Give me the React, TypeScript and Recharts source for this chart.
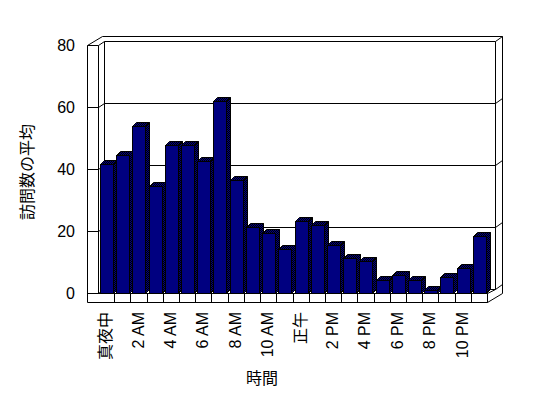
import { BarChart, Bar, XAxis, YAxis, CartesianGrid, Customized } from "recharts";

const hours = [
  "真夜中", "1 AM", "2 AM", "3 AM", "4 AM", "5 AM", "6 AM", "7 AM", "8 AM", "9 AM", "10 AM", "11 AM",
  "正午", "1 PM", "2 PM", "3 PM", "4 PM", "5 PM", "6 PM", "7 PM", "8 PM", "9 PM", "10 PM", "11 PM",
];
const visits = [
  41.5, 44.4, 53.8, 34.4, 47.6, 47.6, 42.5, 61.9, 36.3, 21.2, 19.3, 14.2,
  23.2, 22, 15.5, 11.2, 10.2, 4.1, 5.9, 4.1, 1.1, 5.1, 8, 18.3,
];
const yTicks = [0, 20, 40, 60, 80];

const data = hours.map((hour, i) => ({ hour, visits: visits[i] }));

const FONT = "'Liberation Sans', Arial, 'Noto Sans CJK JP', sans-serif";
const NAVY = "#000080";
const DEPTH = 4; // bar side/top offset
const WALL = 11; // left wall thickness
const FLOOR = 9; // floor slab thickness

// 3D look: front face, dithered top and right side
function Bar3D(props: any) {
  const { x, y, width, height } = props;
  const l = Math.round(x) + 0.5;
  const r = Math.round(x + width) + 0.5;
  const t = Math.round(y) + 0.5;
  const b = Math.round(y + height) + 0.5;
  const d = DEPTH;
  return (
    <g>
      <polygon
        points={`${r},${t} ${r + d},${t - d} ${r + d},${b - d} ${r},${b}`}
        fill="url(#dither)"
        stroke="#000"
      />
      <polygon
        points={`${l},${t} ${l + d},${t - d} ${r + d},${t - d} ${r},${t}`}
        fill="url(#dither)"
        stroke="#000"
      />
      <rect x={l} y={t} width={r - l} height={b - t} fill={NAVY} stroke="#000" />
    </g>
  );
}

// draws each value line on the back wall plus the box around the plot
function GridLine3D(props: any) {
  const { x1, x2, y1, index, y: top, height } = props;
  const L = Math.round(x1) + 0.5;
  const R = Math.round(x2) + 0.5;
  const Y = Math.round(y1) + 0.5;
  const T = Math.round(top) + 0.5;
  const B = Math.round(top + height) + 0.5;
  const seg = (ax: number, ay: number, bx: number, by: number, k: string) => (
    <line key={k} x1={ax} y1={ay} x2={bx} y2={by} stroke="#000" strokeWidth={1} />
  );
  const parts = [
    seg(L - WALL, Y, L, Y, "f"),
    seg(L, Y, L + 6, Y - 4, "dl"),
    seg(L + 6, Y - 4, R + 8, Y - 4, "b"),
    seg(R + 8, Y - 4, R + 15, Y - 9, "dr"),
  ];
  if (Math.abs(Y - T) < 1) {
    parts.push(
      seg(L - WALL, T, L + 4, T - 9, "o1"),
      seg(L + 4, T - 9, R + 15, T - 9, "o2"),
      seg(L - WALL, T, L - WALL, B + FLOOR, "v1"),
      seg(L, T, L, B, "v2"),
      seg(L + 6, T - 4, L + 6, B - 4, "v3"),
      seg(R + 8, T - 4, R + 8, B - 4, "v4"),
      seg(R + 15, T - 9, R + 15, B, "v5"),
      seg(L - WALL, B + FLOOR, R, B + FLOOR, "fl1"),
      seg(L - WALL, B, R, B, "fl2"),
      seg(R, B, R, B + FLOOR, "fl3"),
      seg(R, B + FLOOR, R + 15, B, "fl4"),
      seg(R, B, R + 8, B - 4, "fl5"),
    );
  }
  return <g key={`g-${index}`}>{parts}</g>;
}

// every category gets a floor tick at its right edge; every other one a label
function HourTick(props: any) {
  const { x, y, payload, index, width } = props;
  const half = payload.offset || width / hours.length / 2;
  const tickX = Math.round(x + half) + 0.5;
  const top = Math.round(y) + 0.5;
  const tx = x + 5;
  const ty = y + 19;
  return (
    <g>
      <line x1={tickX} y1={top} x2={tickX} y2={top + FLOOR} stroke="#000" />
      {index % 2 === 0 && (
        <text
          x={tx}
          y={ty}
          transform={`rotate(-90 ${tx} ${ty})`}
          textAnchor="end"
          fontFamily={FONT}
          fontSize={16}
          fill="#000"
        >
          {payload.value}
        </text>
      )}
    </g>
  );
}

function Extras() {
  return (
    <g>
      <defs>
        <pattern id="dither" width="2" height="2" patternUnits="userSpaceOnUse">
          <rect width="2" height="2" fill={NAVY} />
          <rect width="1" height="1" fill="#000" />
          <rect x="1" y="1" width="1" height="1" fill="#000" />
        </pattern>
      </defs>
      <text
        x={27}
        y={172}
        transform="rotate(-90 27 172)"
        textAnchor="middle"
        dominantBaseline="central"
        fontFamily={FONT}
        fontSize={16}
      >
        訪問数の平均
      </text>
      <text x={262} y={384} textAnchor="middle" fontFamily={FONT} fontSize={16}>
        時間
      </text>
    </g>
  );
}

export default function App() {
  return (
    <div style={{ position: "absolute", left: 0, top: 0, width: 548, height: 398, background: "#fff" }}>
      <BarChart
        width={548}
        height={398}
        data={data}
        margin={{ top: 45, right: 61, bottom: 35, left: 38 }}
        barCategoryGap={0}
      >
        <Customized component={Extras} />
        <CartesianGrid horizontal={GridLine3D} vertical={false} />
        <XAxis
          dataKey="hour"
          interval={0}
          axisLine={false}
          tickLine={false}
          tickSize={0}
          tickMargin={0}
          height={70}
          tick={HourTick}
        />
        <YAxis
          domain={[0, 80]}
          ticks={yTicks}
          width={60}
          axisLine={false}
          tickLine={false}
          tickSize={0}
          tickMargin={23}
          tick={{ fontFamily: FONT, fontSize: 16, fill: "#000" }}
        />
        <Bar dataKey="visits" barSize={13} shape={Bar3D} isAnimationActive={false} />
      </BarChart>
    </div>
  );
}
